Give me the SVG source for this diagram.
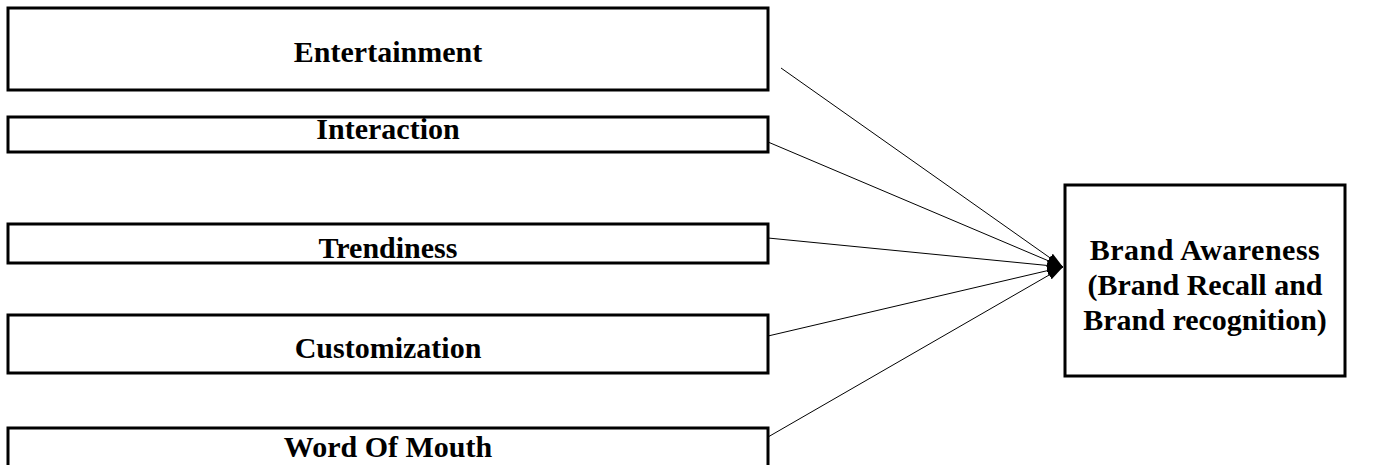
<svg xmlns="http://www.w3.org/2000/svg" width="1375" height="465" viewBox="0 0 1375 465">
<style>
.box{fill:#fff;stroke:#000;stroke-width:3}
.lbl{font-family:"Liberation Serif","Times New Roman",serif;font-weight:bold;font-size:30px;fill:#000;text-anchor:middle}
.con{stroke:#000;stroke-width:1;fill:none;marker-end:url(#ah)}
</style>
<defs>
<marker id="ah" viewBox="0 0 16 10" refX="16" refY="5" markerWidth="16" markerHeight="10" markerUnits="userSpaceOnUse" orient="auto">
<path d="M0,0 L16,5 L0,10 z" fill="#000"/>
</marker>
</defs>
<rect width="1375" height="465" fill="#fff"/>
<g id="entertainment"><rect class="box" x="8" y="8" width="760" height="82"/><text class="lbl" x="388" y="62">Entertainment</text></g>
<g id="interaction"><rect class="box" x="8" y="117" width="760" height="35"/><text class="lbl" x="388" y="139">Interaction</text></g>
<g id="trendiness"><rect class="box" x="8" y="224" width="760" height="39"/><text class="lbl" x="388" y="258">Trendiness</text></g>
<g id="customization"><rect class="box" x="8" y="315" width="760" height="58"/><text class="lbl" x="388" y="358">Customization</text></g>
<g id="wordofmouth"><rect class="box" x="8" y="428" width="760" height="60"/><text class="lbl" x="388" y="457">Word Of Mouth</text></g>
<g id="brandawareness"><rect class="box" x="1065" y="185" width="280" height="191"/>
<text class="lbl" x="1205" y="260" letter-spacing="0.5">Brand Awareness</text>
<text class="lbl" x="1205" y="295">(Brand Recall and</text>
<text class="lbl" x="1205" y="330">Brand recognition)</text></g>
<g id="connectors">
<line class="con" x1="781" y1="68" x2="1063" y2="267"/>
<line class="con" x1="768" y1="142" x2="1063" y2="267"/>
<line class="con" x1="768" y1="238" x2="1063" y2="267"/>
<line class="con" x1="768" y1="336" x2="1063" y2="267"/>
<line class="con" x1="768" y1="437" x2="1063" y2="267"/>
</g>
</svg>
